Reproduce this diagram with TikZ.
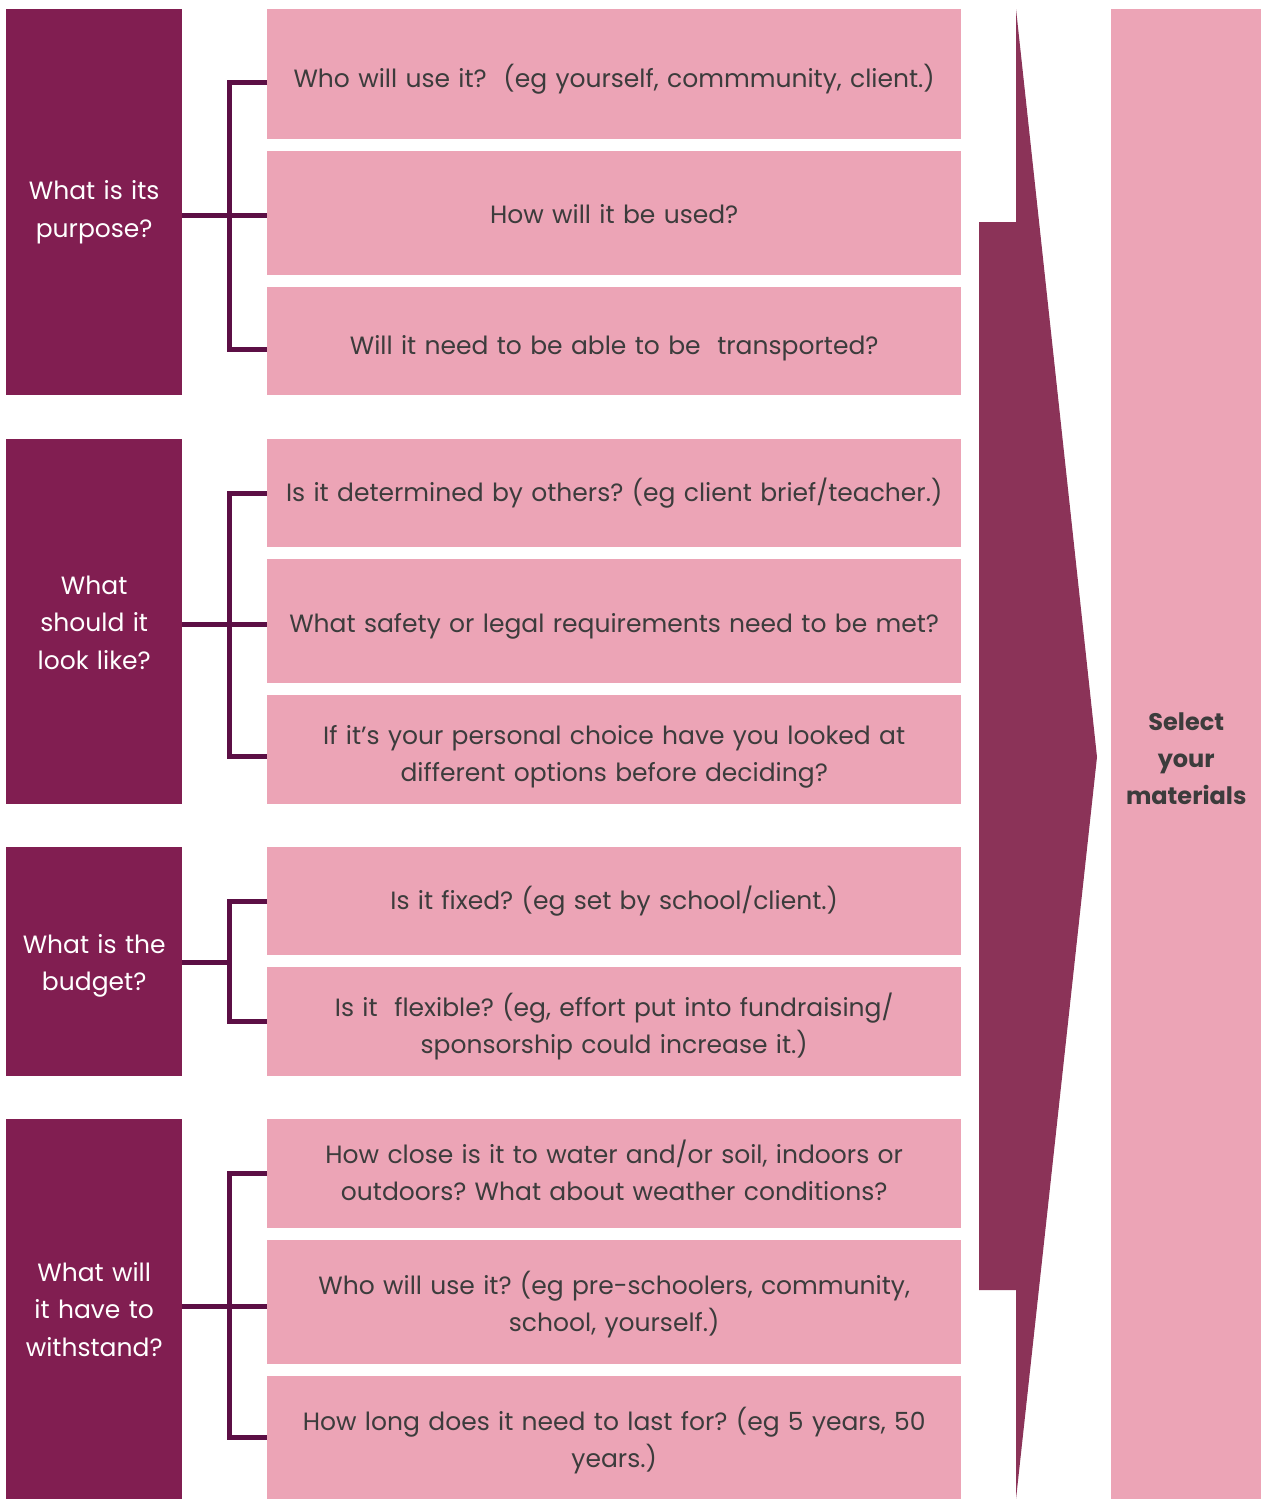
\documentclass[tikz,border=0pt]{standalone}
\usepackage{fontspec}
\setmainfont{Poppins}
\definecolor{darkbox}{HTML}{811E51}
\definecolor{pinkbox}{HTML}{ECA4B6}
\definecolor{arrowc}{HTML}{8B3358}
\definecolor{brc}{HTML}{5C0F45}
\definecolor{txt}{HTML}{3C3C3C}
\frenchspacing
\begin{document}
\begin{tikzpicture}[x=1pt,y=-1pt,
  lbox/.style={fill=darkbox, anchor=north west, inner sep=0pt, minimum width=176pt},
  ltext/.style={text=white, inner sep=0pt, text width=174pt, align=center,
    font=\fontsize{25}{37.5}\selectfont},
  mbox/.style={fill=pinkbox, anchor=north west, inner sep=0pt, minimum width=694pt},
  mtext/.style={text=txt, inner sep=0pt, text width=690pt, align=center,
    font=\fontsize{25}{37}\selectfont},
  rbox/.style={fill=pinkbox, anchor=north west, inner sep=0pt, minimum width=150pt},
  rtext/.style={text=txt, inner sep=0pt, text width=148pt, align=center,
    font=\fontsize{24}{37}\selectfont\bfseries},
  br/.style={draw=brc, line width=5pt}]
\fill[white] (0,0) rectangle (1261,1499);
\useasboundingbox (0,0) rectangle (1261,1499);

% left boxes
\node[lbox, minimum height=386pt, label={[ltext,yshift=-10pt]center:{What is its\\purpose?}}] (L1) at (6,9) {};
\node[lbox, minimum height=365pt, label={[ltext,yshift=-1pt]center:{What\\should it\\look like?}}] (L2) at (6,439) {};
\node[lbox, minimum height=229pt, label={[ltext,yshift=-4pt]center:{What is the\\budget?}}] (L3) at (6,847) {};
\node[lbox, minimum height=380pt, label={[ltext]center:{What will\\it have to\\withstand?}}] (L4) at (6,1119) {};

% middle boxes
\node[mbox, minimum height=130pt, label={[mtext,yshift=-5pt]center:{Who will use it?\ \ (eg yourself, commmunity, client.)}}] (M1) at (267,9) {};
\node[mbox, minimum height=124pt, label={[mtext,yshift=-1pt]center:{How will it be used?}}] (M2) at (267,151) {};
\node[mbox, minimum height=108pt, label={[mtext,yshift=-7pt]center:{Will it need to be able to be\ \ transported?}}] (M3) at (267,287) {};
\node[mbox, minimum height=108pt, label={[mtext]center:{Is it determined by others? (eg client brief/teacher.)}}] (M4) at (267,439) {};
\node[mbox, minimum height=124pt, label={[mtext,yshift=-5pt]center:{What safety or legal requirements need to be met?}}] (M5) at (267,559) {};
\node[mbox, minimum height=109pt, label={[mtext,yshift=-7pt]center:{If it's your personal choice have you looked at\\different options before deciding?}}] (M6) at (267,695) {};
\node[mbox, minimum height=108pt, label={[mtext]center:{Is it fixed? (eg set by school/client.)}}] (M7) at (267,847) {};
\node[mbox, minimum height=109pt, label={[mtext,yshift=-5pt]center:{Is it\ \ flexible? (eg, effort put into fundraising/\\sponsorship could increase it.)}}] (M8) at (267,967) {};
\node[mbox, minimum height=109pt, label={[mtext,yshift=3pt]center:{How close is it to water and/or soil, indoors or\\outdoors? What about weather conditions?}}] (M9) at (267,1119) {};
\node[mbox, minimum height=124pt, label={[mtext,yshift=-2pt]center:{Who will use it? (eg pre-schoolers, community,\\school, yourself.)}}] (M10) at (267,1240) {};
\node[mbox, minimum height=123pt, label={[mtext,yshift=-3pt]center:{How long does it need to last for? (eg 5 years, 50\\years.)}}] (M11) at (267,1376) {};

% right box
\node[rbox, minimum height=1490pt, label={[rtext,yshift=-5pt]center:{Select\\your\\materials}}] (R) at (1111,9) {};

% arrow
\fill[arrowc] (1016,9) -- (1097,757) -- (1016,1499) -- (1016,1290) -- (979,1290)
  -- (979,222) -- (1016,222) -- cycle;

% brackets
\coordinate (J1) at (229,215);
\coordinate (J2) at (229,624);
\coordinate (J3) at (229,962);
\coordinate (J4) at (229,1306);
\draw[br] (L1.east |- J1) -- (M2.west |- J1);
\draw[br] ([yshift=-8pt]M1.west) -| (J1) |- ([yshift=-8pt]M3.west);
\draw[br] (L2.east |- J2) -- (M5.west |- J2);
\draw[br] (M4.west) -| (J2) |- ([yshift=-7pt]M6.west);
\draw[br] (L3.east |- J3) -- (J3);
\draw[br] (M7.west) -| (J3) |- (M8.west);
\draw[br] (L4.east |- J4) -- (M10.west |- J4);
\draw[br] (M9.west) -| (J4) |- (M11.west);
\end{tikzpicture}
\end{document}
